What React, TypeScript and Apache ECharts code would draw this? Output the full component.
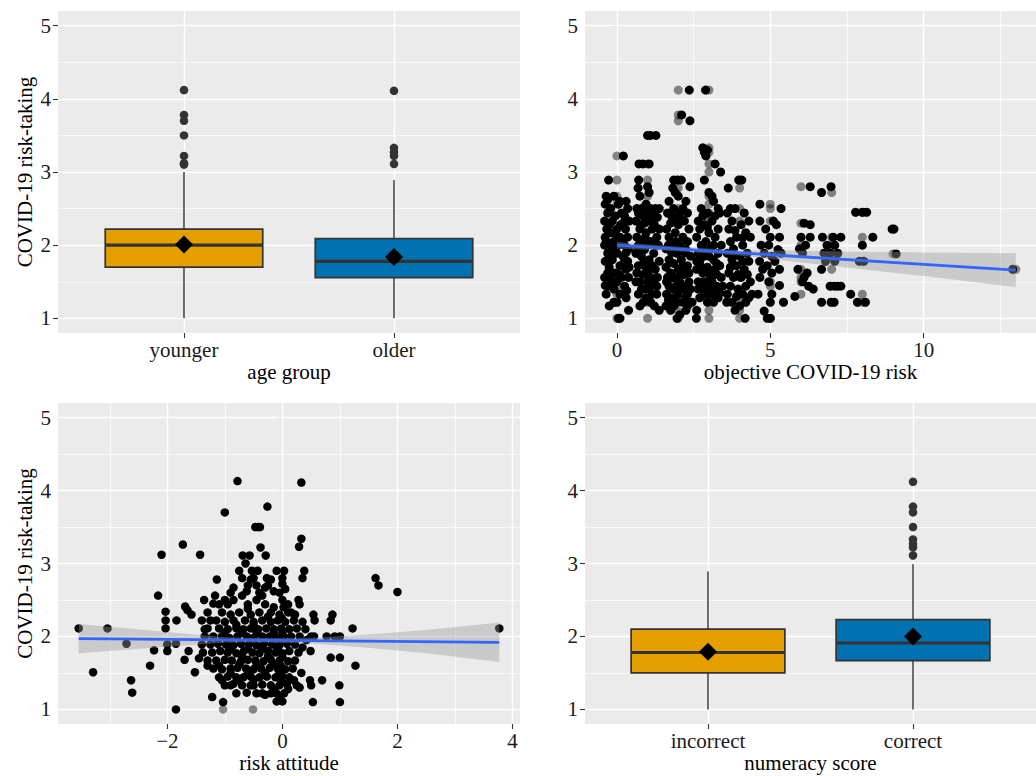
import React, { useEffect, useRef } from "react";
import * as echarts from "echarts";

const FONT = "'Liberation Serif', 'Times New Roman', serif";

// ---------- Panel A: age group boxplot ----------
const ageGroups = ["younger", "older"];
// [position, min, Q1, median, Q3, max]
const ageBoxes = [
  [1, 1.0, 1.7, 2.0, 2.22, 3.0],
  [2, 1.0, 1.556, 1.78, 2.09, 2.89],
];
const ageMeans = [[1, 2.01], [2, 1.84]];
const ageOutliers = [
  [1, 4.12], [1, 3.78], [1, 3.7], [1, 3.5], [1, 3.22], [1, 3.12], [1, 3.1],
  [2, 4.11], [2, 3.33], [2, 3.27], [2, 3.22], [2, 3.11],
];
const boxColors = ["#E69F00", "#0072B2"];

// ---------- Panel D: numeracy boxplot ----------
const numeracyGroups = ["incorrect", "correct"];
const numeracyBoxes = [
  [1, 1.0, 1.5, 1.78, 2.1, 2.89],
  [2, 1.0, 1.67, 1.91, 2.23, 2.99],
];
const numeracyMeans = [[1, 1.79], [2, 2.0]];
const numeracyOutliers = [
  [2, 4.12], [2, 3.78], [2, 3.7], [2, 3.5], [2, 3.33], [2, 3.27], [2, 3.22], [2, 3.11],
];

// ---------- Panel B: objective COVID-19 risk ----------
const riskJittered = [
  // x ~ 0
  [-0.35, 2.67], [-0.1, 2.67], [0.1, 2.6], [0.3, 2.6], [-0.38, 2.56], [0.05, 2.56], [-0.2, 2.5], [0.35, 2.5],
  [-0.3, 2.44], [0.15, 2.44], [-0.05, 2.4], [0.4, 2.33], [-0.4, 2.33], [-0.15, 2.33], [0.2, 2.3], [-0.33, 2.22],
  [0.0, 2.22], [0.28, 2.22], [-0.2, 2.17], [0.1, 2.11], [-0.38, 2.11], [0.35, 2.11], [-0.1, 2.05], [-0.4, 2.0],
  [-0.2, 2.0], [0.05, 2.0], [0.25, 2.0], [0.38, 1.95], [-0.3, 1.89], [0.0, 1.89], [0.2, 1.85], [-0.15, 1.8],
  [0.35, 1.78], [-0.38, 1.78], [0.1, 1.72], [-0.25, 1.7], [0.3, 1.67], [-0.05, 1.62], [-0.4, 1.56], [-0.2, 1.56],
  [0.15, 1.56], [0.38, 1.56], [0.0, 1.5], [-0.3, 1.44], [0.25, 1.44], [-0.1, 1.4], [0.1, 1.33], [-0.35, 1.33],
  [0.3, 1.28], [-0.1, 1.22], [0.0, 1.22], [-0.25, 1.17], [0.38, 1.11], [0.05, 1.0], [0.1, 1.0], [-0.27, 2.89],
  [0.21, 3.22], [-0.3, 2.62], [0.25, 2.4],
  [-0.25, 2.28], [0.12, 2.28], [-0.35, 2.05], [0.3, 1.9], [-0.1, 1.95], [0.22, 1.75], [-0.3, 1.62], [0.08, 1.6],
  [-0.18, 1.5], [0.32, 1.38], [-0.38, 1.45], [0.18, 2.06], [-0.05, 2.15], [0.4, 1.7], [-0.22, 1.85],
  // x ~ 1
  [0.72, 3.11], [0.85, 3.11], [1.05, 3.11], [1.0, 3.5], [1.09, 3.5], [1.27, 3.5], [0.71, 2.89], [0.69, 2.78],
  [1.0, 2.8], [1.05, 2.72], [0.75, 2.67], [0.95, 2.56], [0.65, 2.5], [0.8, 2.5], [1.1, 2.5], [1.25, 2.5],
  [1.38, 2.5], [0.7, 2.44], [1.0, 2.44], [1.2, 2.44], [0.85, 2.4], [1.32, 2.38], [0.62, 2.33], [1.05, 2.33],
  [0.9, 2.3], [1.22, 2.28], [0.75, 2.22], [1.15, 2.22], [1.38, 2.22], [0.95, 2.17], [0.65, 2.11], [1.3, 2.11],
  [0.85, 2.05], [1.1, 2.05], [0.7, 2.0], [1.0, 2.0], [1.35, 2.0], [0.9, 1.94], [1.2, 1.89], [0.62, 1.89],
  [0.8, 1.85], [1.05, 1.8], [1.38, 1.78], [0.7, 1.72], [0.95, 1.7], [1.25, 1.67], [0.65, 1.62], [0.85, 1.6],
  [1.1, 1.56], [0.75, 1.5], [1.0, 1.5], [1.3, 1.44], [0.9, 1.4], [0.7, 1.33], [1.15, 1.33], [0.86, 1.22],
  [1.1, 1.22], [1.22, 1.17], [1.38, 1.11], [0.95, 1.28],
  [0.78, 2.28], [1.12, 2.38], [0.92, 2.1], [1.25, 2.0], [0.68, 1.95], [1.15, 1.72], [0.88, 1.78], [1.32, 1.56],
  [0.62, 1.5], [1.2, 1.5], [0.8, 1.4], [1.05, 1.4], [1.3, 1.33], [0.75, 1.17], [1.0, 1.62],
  // x ~ 2
  [2.36, 4.12], [2.11, 3.78], [2.38, 3.7], [1.85, 2.89], [1.96, 2.89], [2.1, 2.89], [1.82, 2.78], [2.38, 2.8],
  [1.9, 2.72], [2.0, 2.67], [1.7, 2.6], [2.25, 2.6], [1.85, 2.5], [2.15, 2.5], [1.65, 2.44], [2.05, 2.44],
  [2.3, 2.44], [1.9, 2.38], [2.2, 2.33], [1.75, 2.3], [2.0, 2.28], [2.35, 2.22], [1.62, 2.22], [1.9, 2.17],
  [2.15, 2.11], [1.7, 2.11], [2.3, 2.05], [1.8, 2.0], [2.05, 2.0], [1.6, 1.95], [2.25, 1.94], [1.95, 1.89],
  [2.4, 1.85], [1.7, 1.8], [2.1, 1.8], [1.85, 1.75], [2.3, 1.72], [1.6, 1.7], [2.0, 1.67], [1.75, 1.62],
  [2.2, 1.6], [1.65, 1.56], [1.9, 1.56], [2.35, 1.5], [2.05, 1.5], [1.7, 1.44], [2.2, 1.44], [1.85, 1.4],
  [2.0, 1.33], [1.62, 1.33], [2.3, 1.33], [1.8, 1.28], [2.15, 1.22], [1.95, 1.22], [1.6, 1.17], [1.75, 1.11],
  [2.3, 1.17], [2.45, 1.22], [1.96, 1.0], [2.05, 1.05], [2.25, 1.11], [1.78, 1.9], [2.12, 1.7],
  [1.78, 2.4], [2.1, 2.35], [1.68, 2.0], [1.92, 2.05], [2.2, 1.9], [1.82, 1.55], [2.1, 1.6], [1.95, 1.45],
  [2.35, 1.62], [1.68, 1.25], [2.1, 1.4], [2.25, 1.28], [1.85, 1.17], [2.4, 1.4], [1.62, 1.5],
  // x ~ 3
  [2.89, 4.12], [2.8, 3.33], [2.85, 3.27], [2.9, 3.22], [2.95, 3.3], [3.2, 3.11], [3.38, 3.0], [2.85, 2.89],
  [3.0, 2.72], [3.1, 2.67], [3.15, 2.6], [3.3, 2.5], [2.75, 2.5], [2.95, 2.44], [3.35, 2.44], [2.65, 2.33],
  [3.1, 2.33], [2.85, 2.28], [3.3, 2.22], [2.7, 2.22], [3.0, 2.17], [2.6, 2.11], [3.2, 2.11], [2.9, 2.05],
  [3.4, 2.0], [2.75, 2.0], [3.05, 1.95], [2.65, 1.89], [3.3, 1.89], [2.85, 1.85], [3.15, 1.8], [2.7, 1.78],
  [3.35, 1.72], [2.95, 1.7], [2.6, 1.67], [3.2, 1.67], [2.8, 1.62], [3.05, 1.56], [3.4, 1.56], [2.65, 1.5],
  [2.9, 1.5], [3.25, 1.44], [2.75, 1.4], [3.1, 1.4], [2.85, 1.33], [3.05, 1.33], [3.45, 1.44], [2.7, 1.28],
  [3.3, 1.28], [2.6, 1.11], [2.59, 1.0], [3.15, 1.22], [2.95, 1.22], [3.25, 1.6], [2.6, 1.78],
  [2.8, 2.4], [3.2, 2.4], [2.95, 2.25], [3.15, 2.0], [2.8, 1.95], [3.0, 1.85], [3.25, 1.75], [2.75, 1.7],
  [3.1, 1.5], [2.8, 1.5], [3.35, 1.35], [2.95, 1.4], [3.2, 1.33], [2.65, 1.4], [3.0, 1.62],
  // x ~ 4
  [3.97, 2.89], [4.07, 2.89], [3.63, 2.78], [3.7, 2.5], [3.85, 2.5], [4.15, 2.44], [3.6, 2.44], [4.3, 2.33],
  [3.75, 2.33], [4.05, 2.28], [3.65, 2.22], [4.2, 2.17], [3.9, 2.11], [4.35, 2.11], [3.7, 2.05], [4.1, 2.0],
  [3.8, 1.95], [4.25, 1.89], [3.6, 1.89], [4.0, 1.85], [3.75, 1.8], [4.3, 1.78], [3.9, 1.72], [4.15, 1.67],
  [3.65, 1.62], [4.05, 1.56], [3.8, 1.56], [4.35, 1.5], [3.7, 1.44], [4.2, 1.44], [3.95, 1.4], [3.6, 1.33],
  [4.1, 1.33], [4.3, 1.28], [3.75, 1.22], [3.58, 1.22], [4.0, 1.17], [3.85, 1.11], [4.18, 1.0], [4.4, 1.33],
  [3.85, 2.2], [4.1, 2.1], [3.8, 1.88], [4.1, 1.78], [3.95, 1.6], [4.25, 1.6], [3.7, 1.7], [3.9, 1.3], [4.2, 1.22],
  // x ~ 5
  [4.66, 2.56], [5.35, 2.5], [4.66, 2.33], [5.1, 2.33], [5.2, 2.28], [4.85, 2.22], [5.0, 2.11], [5.3, 2.11],
  [4.7, 2.0], [4.95, 2.0], [5.25, 1.94], [5.35, 1.89], [4.8, 1.89], [5.05, 1.85], [4.65, 1.78], [5.15, 1.78],
  [4.9, 1.72], [5.3, 1.67], [4.75, 1.67], [5.05, 1.62], [4.66, 1.56], [5.3, 1.45], [4.95, 1.5], [4.6, 1.33],
  [5.05, 1.33], [5.0, 1.22], [5.43, 1.22], [4.9, 1.0], [5.0, 1.0], [4.8, 1.1],
  // x ~ 6
  [6.3, 2.8], [6.1, 2.3], [6.3, 2.28], [6.0, 2.11], [6.3, 2.11], [6.15, 2.0], [5.95, 1.95], [6.05, 1.89],
  [5.9, 1.67], [6.1, 1.56], [6.05, 1.5], [6.25, 1.44], [6.4, 1.4], [5.8, 1.3], [6.2, 1.62],
  // x ~ 7
  [6.98, 2.8], [6.67, 2.72], [6.7, 2.11], [7.05, 2.11], [7.3, 2.11], [6.85, 2.0], [7.1, 2.0], [6.75, 1.89],
  [6.95, 1.89], [7.2, 1.89], [6.8, 1.78], [7.1, 1.78], [6.67, 1.67], [6.95, 1.44], [7.1, 1.44], [7.2, 1.44],
  [7.3, 1.44], [6.67, 1.22], [6.98, 1.22], [7.08, 1.22],
  // x ~ 8, 9, 13
  [7.78, 2.45], [8.0, 2.45], [8.14, 2.45], [8.34, 2.11], [8.0, 2.0], [8.05, 1.78], [7.9, 1.78], [7.62, 1.33],
  [7.84, 1.22], [8.1, 1.22], [8.97, 2.22], [9.03, 2.22], [9.1, 1.88], [12.9, 1.67],
];
const riskExact = [
  [0, 3.22], [0, 2.89], [0, 2.67], [0, 2.56], [0, 1.5], [0, 1.4], [0, 1.33], [0, 1.22], [0, 1.0],
  [1, 3.11], [1, 2.89], [1, 2.67], [1, 2.5], [1, 1.22], [1, 1.0],
  [2, 4.12], [2, 3.78], [2, 3.7], [2, 2.89], [2, 2.78], [2, 2.5], [2, 1.22], [2, 1.1], [2, 1.0],
  [3, 4.12], [3, 3.33], [3, 3.27], [3, 3.11], [3, 3.0], [3, 2.67], [3, 2.56], [3, 2.44], [3, 2.33], [3, 1.33], [3, 1.11], [3, 1.0],
  [4, 2.89], [4, 2.78], [4, 2.5], [4, 2.33], [4, 1.56], [4, 1.22], [4, 1.11], [4, 1.0],
  [5, 2.56], [5, 2.5], [5, 2.33], [5, 1.5], [5, 1.44], [5, 1.0],
  [6, 2.8], [6, 2.3], [6, 2.0], [6, 1.67], [6, 1.56], [6, 1.5], [6, 1.33],
  [7, 2.72], [7, 2.11], [7, 2.0], [7, 1.89], [7, 1.67], [7, 1.44],
  [8, 2.45], [8, 2.11], [8, 1.78], [8, 1.33], [8, 1.22],
  [9, 1.88], [13, 1.67],
];
const riskFit = [[0, 2.0], [13, 1.66]];
const riskBandX = [0, 2, 4, 6, 8, 10, 13];
const riskBandLo = [1.955, 1.918, 1.86, 1.763, 1.67, 1.58, 1.43];
const riskBandHi = [2.045, 1.978, 1.93, 1.923, 1.91, 1.9, 1.89];

// ---------- Panel C: risk attitude ----------
const attitudePoints = [
  [-3.54, 2.11], [-3.29, 1.51], [-3.04, 2.11], [-2.71, 1.9], [-2.63, 1.4], [-2.61, 1.23], [-2.3, 1.6], [-2.16, 2.56],
  [-2.1, 3.12], [-2.23, 1.81], [-2.03, 2.34], [-2.03, 2.22], [-2.03, 2.11], [-2.0, 1.89], [-2.0, 1.8], [-1.85, 1.0],
  [-1.85, 1.9], [-1.84, 2.22], [-1.73, 3.26], [-1.69, 2.41], [-1.65, 2.36], [-1.58, 2.3], [-1.7, 1.68], [-1.63, 1.8],
  [-1.52, 1.51], [-1.43, 3.12], [-1.36, 2.5], [-1.14, 2.78], [-1.17, 2.56], [-1.22, 1.17], [-1.03, 1.1], [-1.0, 3.7],
  [-0.78, 4.13], [0.33, 4.11], [-0.26, 3.78], [-0.47, 3.5], [-0.42, 3.5], [-0.39, 3.5], [0.33, 3.34], [0.29, 3.23],
  [-0.38, 3.22], [-0.29, 3.11], [-0.69, 3.11], [-0.57, 3.11], [-0.64, 3.0], [-0.75, 2.9], [-0.53, 2.9], [-0.43, 2.9],
  [0.03, 2.9], [0.38, 2.9], [0.35, 2.8], [-0.27, 2.8], [-0.2, 2.78], [1.62, 2.8], [1.67, 2.7], [2.0, 2.61],
  [3.77, 2.11], [1.22, 2.11], [1.27, 1.6], [1.0, 1.71], [0.84, 1.71], [0.99, 1.33], [1.0, 1.1], [0.53, 1.1],
  [0.69, 1.4], [0.5, 1.33], [0.48, 1.4], [0.91, 2.0], [1.0, 2.0], [0.77, 2.0], [0.84, 2.22], [0.87, 2.3],
  [0.56, 2.22], [0.54, 2.3], [0.5, 2.0], [0.55, 2.0], [0.49, 1.8], [0.33, 1.5], [0.25, 1.33], [0.3, 1.3],
  [0.0, 2.8], [0.0, 2.72], [-0.55, 2.78], [-0.6, 2.7], [-0.45, 2.7], [-0.85, 2.67], [-0.3, 2.67], [0.28, 2.5],
  [0.3, 2.44], [0.15, 2.33], [-1.3, 1.6], [-1.45, 1.7], [-1.4, 2.22], [-1.35, 2.1], [-1.25, 2.22], [-1.1, 2.44],
  [-1.2, 2.45], [-0.2, 1.22], [-0.1, 1.11], [0.0, 1.11], [-0.05, 1.18], [-0.3, 1.2], [-0.55, 1.33], [-0.5, 1.33],
  [-0.45, 1.22], [-0.9, 1.33], [-1.05, 1.4], [-0.75, 1.4], [0.2, 1.4], [0.1, 1.28],
  [-1.0, 2.5], [-0.85, 2.5], [-0.6, 2.44], [-0.45, 2.5], [-0.3, 2.44], [-0.15, 2.4], [0.0, 2.5], [0.1, 2.44],
  [-0.7, 2.56], [-0.35, 2.56], [-0.05, 2.6],
  [-1.3, 2.33], [-1.05, 2.33], [-0.9, 2.3], [-0.75, 2.33], [-0.55, 2.3], [-0.4, 2.33], [-0.2, 2.33], [-0.05, 2.3],
  [0.1, 2.33], [0.22, 2.3],
  [-1.15, 2.22], [-1.0, 2.2], [-0.85, 2.22], [-0.65, 2.22], [-0.5, 2.2], [-0.35, 2.22], [-0.2, 2.2], [-0.08, 2.22],
  [0.05, 2.2], [0.2, 2.22], [0.35, 2.2],
  [-1.3, 2.11], [-1.1, 2.11], [-0.95, 2.1], [-0.8, 2.11], [-0.68, 2.1], [-0.55, 2.11], [-0.42, 2.1], [-0.28, 2.11],
  [-0.15, 2.1], [-0.02, 2.11], [0.12, 2.1], [0.25, 2.11], [0.4, 2.1],
  [-1.35, 2.0], [-1.2, 2.0], [-1.05, 2.0], [-0.92, 1.98], [-0.78, 2.0], [-0.62, 2.0], [-0.5, 1.98], [-0.35, 2.0],
  [-0.22, 2.0], [-0.1, 1.98], [0.02, 2.0], [0.15, 2.0], [0.3, 2.0], [0.42, 1.95],
  [-1.4, 1.89], [-1.25, 1.89], [-1.12, 1.9], [-0.98, 1.89], [-0.85, 1.88], [-0.72, 1.9], [-0.58, 1.89], [-0.45, 1.88],
  [-0.32, 1.9], [-0.18, 1.89], [-0.05, 1.88], [0.08, 1.9], [0.22, 1.89], [0.35, 1.85],
  [-1.38, 1.78], [-1.22, 1.78], [-1.08, 1.8], [-0.95, 1.78], [-0.8, 1.77], [-0.67, 1.8], [-0.52, 1.78], [-0.4, 1.77],
  [-0.25, 1.8], [-0.12, 1.78], [0.0, 1.77], [0.12, 1.8], [0.28, 1.78],
  [-1.3, 1.67], [-1.15, 1.67], [-1.0, 1.68], [-0.88, 1.67], [-0.72, 1.66], [-0.6, 1.68], [-0.47, 1.67], [-0.33, 1.66],
  [-0.2, 1.68], [-0.05, 1.67], [0.1, 1.66], [0.22, 1.67],
  [-1.2, 1.56], [-1.05, 1.55], [-0.9, 1.56], [-0.78, 1.57], [-0.63, 1.56], [-0.5, 1.55], [-0.37, 1.56], [-0.22, 1.57],
  [-0.08, 1.56], [0.05, 1.55], [0.18, 1.56],
  [-1.1, 1.44], [-0.95, 1.45], [-0.8, 1.44], [-0.68, 1.44], [-0.55, 1.45], [-0.4, 1.44], [-0.27, 1.45], [-0.12, 1.44],
  [0.0, 1.45], [0.12, 1.44],
  [-1.0, 1.33], [-0.85, 1.35], [-0.7, 1.33], [-0.35, 1.34], [-0.2, 1.33], [-0.05, 1.33], [0.08, 1.35],
  [-0.8, 1.22], [-0.62, 1.23], [-0.35, 1.22], [-0.1, 1.22], [0.03, 1.22],
  [-0.02, 1.5], [-0.03, 1.6], [0.0, 1.72], [-0.02, 1.95], [0.0, 2.05], [-0.01, 2.25], [0.02, 2.4], [-0.03, 1.4],
  [-0.9, 2.6], [-0.62, 2.62], [-0.4, 2.6], [-0.15, 2.62], [0.05, 2.65], [-0.25, 2.7], [-0.95, 2.44], [-0.7, 2.8],
  [-0.5, 2.8], [-0.1, 2.9],
  [-1.0, 2.05], [-0.7, 2.05], [-0.45, 2.05], [-0.15, 2.05], [-0.9, 1.83], [-0.6, 1.83], [-0.35, 1.83], [-0.08, 1.83],
  [-1.1, 1.6], [-0.75, 1.62], [-0.45, 1.6], [-0.15, 1.62], [-0.9, 1.5], [-0.6, 1.5], [-0.3, 1.5], [-0.05, 1.5],
  [-0.8, 2.16], [-0.5, 2.16], [-0.25, 2.27], [-0.7, 1.73], [-0.25, 1.73], [-0.5, 1.4], [-0.15, 1.28], [-0.6, 2.38],
];
const attitudeFaint = [[-1.03, 1.0], [-0.51, 1.0]];
const attitudeFit = [[-3.54, 1.97], [3.77, 1.92]];
const attitudeBandX = [-3.54, -2, -1, -0.4, 0.5, 1.5, 2.5, 3.77];
const attitudeBandLo = [1.77, 1.86, 1.918, 1.918, 1.902, 1.846, 1.769, 1.65];
const attitudeBandHi = [2.17, 2.06, 1.988, 1.978, 1.982, 2.026, 2.089, 2.19];

// ---------- ticks ----------
const yTicks = [1, 2, 3, 4, 5];
const yMinor = [1.5, 2.5, 3.5, 4.5];
const riskTicks = [0, 5, 10];
const riskMinor = [2.5, 7.5, 12.5];
const attitudeTicks = [-2, 0, 2, 4];
const attitudeMinor = [-3, -1, 1, 3];
const groupTicks = [1, 2];

const TICK_COLOR = "#1a1a1a";

function gridLines(gi: number, xMajor: number[], xMinor: number[]) {
  const major = { color: "#ffffff", width: 1.4, type: "solid" };
  const minor = { color: "#ffffff", width: 0.7, type: "solid" };
  const data: any[] = [];
  yMinor.forEach((v) => data.push({ yAxis: v, lineStyle: minor }));
  xMinor.forEach((v) => data.push({ xAxis: v, lineStyle: minor }));
  yTicks.forEach((v) => data.push({ yAxis: v, lineStyle: major }));
  xMajor.forEach((v) => data.push({ xAxis: v, lineStyle: major }));
  return {
    type: "line",
    xAxisIndex: gi,
    yAxisIndex: gi,
    data: [],
    silent: true,
    z: 1,
    markLine: {
      silent: true,
      symbol: ["none", "none"],
      label: { show: false },
      z: 1,
      animation: false,
      data,
    },
  };
}

function boxSeries(gi: number, boxes: number[][]) {
  return {
    type: "custom",
    xAxisIndex: gi,
    yAxisIndex: gi,
    z: 3,
    silent: true,
    data: boxes,
    encode: { x: 0, y: [1, 2, 3, 4, 5] },
    renderItem: (params: any, api: any) => {
      const x = api.value(0);
      const p = [1, 2, 3, 4, 5].map((d) => api.coord([x, api.value(d)]));
      const w = api.size([0.75, 0])[0];
      const cx = p[0][0];
      const fill = boxColors[params.dataIndex];
      const st = { stroke: "#333333", lineWidth: 1.4 };
      return {
        type: "group",
        children: [
          { type: "line", shape: { x1: cx, y1: p[0][1], x2: cx, y2: p[1][1] }, style: st },
          { type: "line", shape: { x1: cx, y1: p[3][1], x2: cx, y2: p[4][1] }, style: st },
          {
            type: "rect",
            shape: { x: cx - w / 2, y: p[3][1], width: w, height: p[1][1] - p[3][1] },
            style: { fill, stroke: "#333333", lineWidth: 1.7 },
          },
          {
            type: "line",
            shape: { x1: cx - w / 2, y1: p[2][1], x2: cx + w / 2, y2: p[2][1] },
            style: { stroke: "#333333", lineWidth: 3.2 },
          },
        ],
      };
    },
  };
}

function bandSeries(gi: number, xs: number[], lo: number[], hi: number[]) {
  return {
    type: "custom",
    xAxisIndex: gi,
    yAxisIndex: gi,
    z: 4,
    silent: true,
    data: [[xs[0], lo[0]]],
    renderItem: (params: any, api: any) => {
      const upper = xs.map((x, i) => api.coord([x, hi[i]]));
      const lower = xs.map((x, i) => api.coord([x, lo[i]])).reverse();
      return {
        type: "polygon",
        shape: { points: upper.concat(lower) },
        style: { fill: "rgba(153,153,153,0.4)" },
      };
    },
  };
}

function scatter(gi: number, data: number[][], color: string, size: number, symbol = "circle", z = 3, opacity = 1) {
  return {
    type: "scatter",
    xAxisIndex: gi,
    yAxisIndex: gi,
    data,
    symbol,
    symbolSize: size,
    itemStyle: { color, borderWidth: 0, opacity },
    silent: true,
    z,
  };
}

function fitLine(gi: number, data: number[][]) {
  return {
    type: "line",
    xAxisIndex: gi,
    yAxisIndex: gi,
    data,
    symbol: "none",
    lineStyle: { color: "#3366FF", width: 2.8 },
    silent: true,
    z: 5,
  };
}

function yAxis(gi: number, withName: boolean) {
  return {
    type: "value",
    gridIndex: gi,
    min: 0.8,
    max: 5.2,
    axisLine: { show: false },
    axisTick: { show: true, length: 5, customValues: yTicks, lineStyle: { color: "#333", width: 1.1 } },
    axisLabel: { customValues: yTicks, margin: 7, fontSize: 21, color: TICK_COLOR, fontFamily: FONT },
    splitLine: { show: false },
    name: withName ? "COVID-19 risk-taking" : "",
    nameLocation: "middle",
    nameGap: 23,
    nameTextStyle: { fontSize: 21, color: "#000", fontFamily: FONT },
  };
}

function xAxis(gi: number, min: number, max: number, ticks: number[], name: string, fmt: (v: number) => string) {
  return {
    type: "value",
    gridIndex: gi,
    min,
    max,
    axisLine: { show: false },
    axisTick: { show: true, length: 5, customValues: ticks, lineStyle: { color: "#333", width: 1.1 } },
    axisLabel: { customValues: ticks, margin: 6, fontSize: 21, color: TICK_COLOR, fontFamily: FONT, formatter: fmt },
    splitLine: { show: false },
    name,
    nameLocation: "middle",
    nameGap: 28,
    nameTextStyle: { fontSize: 21, color: "#000", fontFamily: FONT },
  };
}

const minusFmt = (v: number) => String(v).replace("-", "\u2212");

export default function App() {
  const ref = useRef<HTMLDivElement>(null);
  useEffect(() => {
    if (!ref.current) return;
    const chart = echarts.init(ref.current, undefined, { renderer: "svg" });
    const gridBase = { show: true, backgroundColor: "#EBEBEB", borderWidth: 0, borderColor: "transparent" };
    const option: any = {
      animation: false,
      textStyle: { fontFamily: FONT },
      grid: [
        { ...gridBase, left: 58, top: 11, width: 462, height: 322 },
        { ...gridBase, left: 585, top: 11, width: 463, height: 322 },
        { ...gridBase, left: 58, top: 403, width: 462, height: 321 },
        { ...gridBase, left: 585, top: 403, width: 463, height: 321 },
      ],
      xAxis: [
        xAxis(0, 0.4, 2.6, groupTicks, "age group", (v: number) => ageGroups[Math.round(v) - 1] || ""),
        xAxis(1, -1.04, 13.66, riskTicks, "objective COVID-19 risk", minusFmt),
        xAxis(2, -3.9, 4.13, attitudeTicks, "risk attitude", minusFmt),
        xAxis(3, 0.4, 2.6, groupTicks, "numeracy score", (v: number) => numeracyGroups[Math.round(v) - 1] || ""),
      ],
      yAxis: [yAxis(0, true), yAxis(1, false), yAxis(2, true), yAxis(3, false)],
      series: [
        gridLines(0, groupTicks, []),
        gridLines(1, riskTicks, riskMinor),
        gridLines(2, attitudeTicks, attitudeMinor),
        gridLines(3, groupTicks, []),
        // panel A
        boxSeries(0, ageBoxes),
        scatter(0, ageOutliers, "#333333", 8.5, "circle", 4),
        scatter(0, ageMeans, "#000000", 18, "diamond", 5),
        // panel B
        scatter(1, riskExact, "#000000", 9, "circle", 3, 0.45),
        scatter(1, riskJittered, "#000000", 9, "circle", 3),
        bandSeries(1, riskBandX, riskBandLo, riskBandHi),
        fitLine(1, riskFit),
        // panel C
        scatter(2, attitudeFaint, "#000000", 8.5, "circle", 3, 0.45),
        scatter(2, attitudePoints, "#000000", 8.5, "circle", 3),
        bandSeries(2, attitudeBandX, attitudeBandLo, attitudeBandHi),
        fitLine(2, attitudeFit),
        // panel D
        boxSeries(3, numeracyBoxes),
        scatter(3, numeracyOutliers, "#333333", 8.5, "circle", 4),
        scatter(3, numeracyMeans, "#000000", 18, "diamond", 5),
      ],
    };
    chart.setOption(option);
    return () => chart.dispose();
  }, []);
  return (
    <div
      ref={ref}
      style={{ position: "absolute", left: 0, top: 0, width: 1036, height: 776, background: "#ffffff" }}
    />
  );
}
